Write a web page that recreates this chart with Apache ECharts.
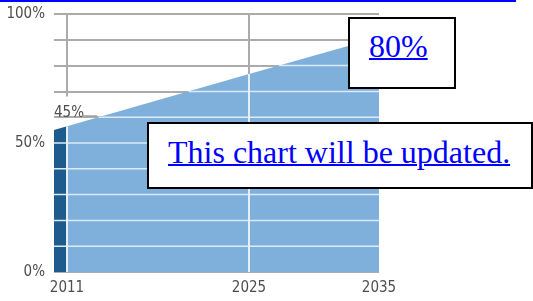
<!DOCTYPE html>
<html><head><meta charset="utf-8">
<script src="https://cdn.jsdelivr.net/npm/echarts@6/dist/echarts.min.js"></script>
<style>
html,body{margin:0;padding:0;background:#fff;}
#wrap{position:relative;width:533px;height:301px;overflow:hidden;background:#fff;}
#chart{position:absolute;left:0;top:0;width:533px;height:301px;}
.box{position:absolute;border:2px solid #000;background:#fff;box-sizing:border-box;}
.lnk{position:absolute;font-family:'Liberation Serif','Times New Roman',serif;font-size:32px;line-height:32px;color:#0000ff;text-decoration:underline;text-decoration-thickness:2px;white-space:nowrap;}
</style></head><body>
<div id="wrap">
<div id="chart"></div>
<div style="position:absolute;left:0;top:0;width:516px;height:2px;background:#0000ff"></div>
<div class="box" style="left:348px;top:17px;width:108px;height:72px"></div>
<a class="lnk" href="#" style="left:369px;top:30px">80%</a>
<div class="box" style="left:147px;top:122px;width:386px;height:67px"></div>
<a class="lnk" href="#" style="left:168px;top:136px">This chart will be updated.</a>
</div>
<script>
// ---- data ----
const histYears = [2010, 2011];
const histShare = [55.0, 56.5];
const projYears = [2011, 2025, 2035];
const projShare = [56.5, 76.7, 91.0];
const xLabelYears = [2011, 2025, 2035];
const yLabelValues = [0, 50, 100];
const gridValues = [10, 20, 30, 40, 50, 60, 70, 80, 90];
const vLineYears = [2011, 2025];
const grayVStops = [68, null];
const calloutText = '45%';

// combined top edge of the filled region
const topPts = histYears.map((y, i) => [y, histShare[i]])
  .concat(projYears.slice(1).map((y, i) => [y, projShare[i + 1]]));
function topAt(yr) {
  for (let i = 0; i < topPts.length - 1; i++) {
    const a = topPts[i], b = topPts[i + 1];
    if (yr >= a[0] && yr <= b[0]) return a[1] + (b[1] - a[1]) * (yr - a[0]) / (b[0] - a[0]);
  }
  return topPts[topPts.length - 1][1];
}
function crossYear(v) {
  if (v <= topPts[0][1]) return topPts[0][0];
  for (let i = 0; i < topPts.length - 1; i++) {
    const a = topPts[i], b = topPts[i + 1];
    if (v >= a[1] && v <= b[1]) return a[0] + (b[0] - a[0]) * (v - a[1]) / (b[1] - a[1]);
  }
  return null;
}

const FONT = "'Liberation Sans Narrow','DejaVu Sans Condensed','Roboto',sans-serif";
const chart = echarts.init(document.getElementById('chart'), null, {renderer: 'canvas'});
const xMin = 2010, xMax = 2035;

chart.setOption({
  animation: false,
  grid: {left: 54, right: 154, top: 14, bottom: 29},
  xAxis: {
    type: 'value', min: xMin, max: xMax, interval: 1,
    axisLine: {show: false}, axisTick: {show: false}, splitLine: {show: false},
    axisLabel: {
      margin: 9, color: '#4d4d4d', fontSize: 15, fontFamily: FONT,
      formatter: v => xLabelYears.includes(Math.round(v)) ? String(Math.round(v)) : ''
    }
  },
  yAxis: {
    type: 'value', min: 0, max: 100, interval: 10,
    axisLine: {show: false}, axisTick: {show: false},
    splitLine: {lineStyle: {color: '#ababab', width: 2}},
    axisLabel: {
      margin: 9, color: '#4d4d4d', fontSize: 15, fontFamily: FONT,
      formatter: v => yLabelValues.includes(Math.round(v)) ? Math.round(v) + '%' : ''
    }
  },
  series: [
    {
      type: 'custom', z: 1, silent: true,
      data: vLineYears.map((y, i) => [y, grayVStops[i] == null ? -1 : grayVStops[i]]),
      renderItem: (params, api) => {
        const yr = api.value(0), stop = api.value(1);
        const low = stop < 0 ? topAt(yr) : stop;
        const p0 = api.coord([yr, 100]), p1 = api.coord([yr, low]);
        return {type: 'line', shape: {x1: p0[0], y1: p0[1], x2: p1[0], y2: p1[1]},
          style: {stroke: '#ababab', lineWidth: 2}};
      }
    },
    {
      type: 'line', z: 2, silent: true, symbol: 'none',
      data: histYears.map((y, i) => [y, histShare[i]]),
      lineStyle: {width: 0}, itemStyle: {color: '#1f5a8c'},
      areaStyle: {color: '#1f5a8c', opacity: 1}
    },
    {
      type: 'line', z: 2, silent: true, symbol: 'none',
      data: projYears.map((y, i) => [y, projShare[i]]),
      lineStyle: {width: 0}, itemStyle: {color: '#7eb0db'},
      areaStyle: {color: '#7eb0db', opacity: 1}
    },
    {
      type: 'custom', z: 3, silent: true,
      data: gridValues.map(v => [xMin, v]),
      renderItem: (params, api) => {
        const v = api.value(1);
        const x0 = crossYear(v);
        if (x0 == null) return null;
        const p0 = api.coord([x0, v]), p1 = api.coord([xMax, v]);
        return {type: 'line', shape: {x1: p0[0], y1: p0[1], x2: p1[0], y2: p1[1]},
          style: {stroke: '#dcebf7', lineWidth: 1.5}};
      }
    },
    {
      type: 'custom', z: 3, silent: true,
      data: vLineYears.map(y => [y, 0]),
      renderItem: (params, api) => {
        const yr = api.value(0);
        const p0 = api.coord([yr, 0]), p1 = api.coord([yr, topAt(yr)]);
        return {type: 'line', shape: {x1: p0[0], y1: p0[1], x2: p1[0], y2: p1[1]},
          style: {stroke: '#e6f0f9', lineWidth: 2}};
      }
    }
  ],
  graphic: [
    {type: 'text', left: 54, top: 106, z: 10,
      style: {text: calloutText, fill: '#4d4d4d', fontSize: 15, fontFamily: FONT}},
    {type: 'line', z: 10, shape: {x1: 82, y1: 116, x2: 97, y2: 116},
      style: {stroke: '#a0a0a0', lineWidth: 1.5}}
  ]
});
</script>
</body></html>
